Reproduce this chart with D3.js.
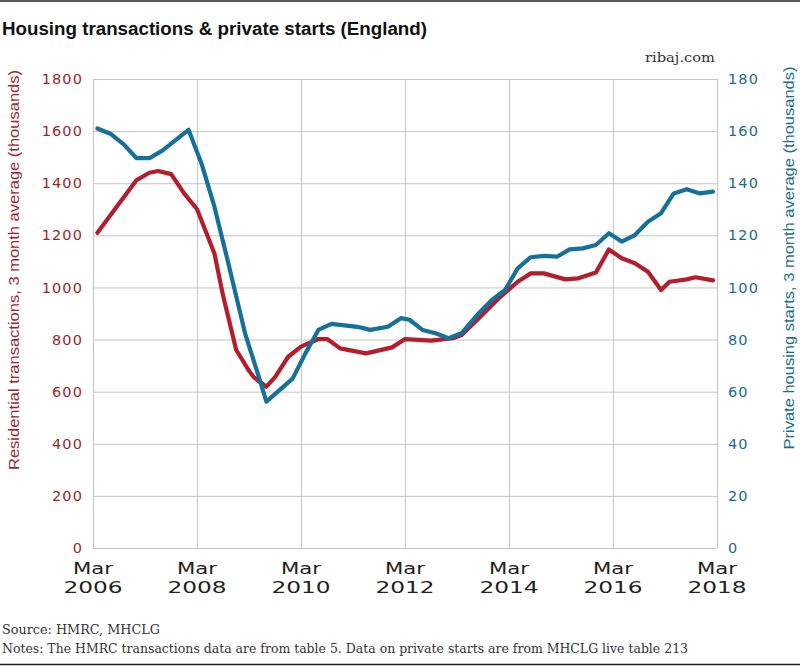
<!DOCTYPE html>
<html><head><meta charset="utf-8">
<script src="https://cdn.jsdelivr.net/npm/d3@7"></script>
<style>
body{margin:0;background:#fff;}
svg{display:block;}
</style></head>
<body>
<svg id="chart" width="800" height="666"></svg>
<script>
// ---- data ----
const transDates = ["2006-04","2007-01","2007-04","2007-06","2007-09","2007-12","2008-03","2008-07","2008-09","2008-12","2009-03","2009-04","2009-07","2009-09","2009-12","2010-03","2010-07","2010-09","2010-12","2011-06","2011-12","2012-03","2012-09","2013-02","2013-04","2013-08","2014-01","2014-05","2014-08","2014-11","2015-04","2015-07","2015-11","2016-02","2016-05","2016-08","2016-11","2017-02","2017-04","2017-08","2017-10","2018-02"];
const transValues = [1210,1412,1440,1447,1435,1361,1300,1130,965,760,680,657,619,657,734,773,802,802,766,747,770,802,796,805,817,882,965,1022,1054,1054,1031,1035,1057,1146,1112,1093,1060,990,1022,1031,1039,1027];

const startsDates = ["2006-04","2006-07","2006-10","2007-01","2007-04","2007-07","2008-01","2008-04","2008-07","2008-10","2009-02","2009-05","2009-07","2010-01","2010-04","2010-07","2010-10","2011-04","2011-07","2011-11","2012-02","2012-04","2012-07","2012-10","2013-01","2013-04","2013-08","2013-11","2014-02","2014-05","2014-08","2014-11","2015-02","2015-05","2015-08","2015-11","2016-02","2016-05","2016-08","2016-11","2017-02","2017-05","2017-08","2017-11","2018-02"];
const startsValues = [161,159,155,149.6,149.6,152.5,160.5,147.6,131,110.5,82.4,67,56.2,65,74.7,83.7,86,84.9,83.7,84.9,88.2,87.6,83.7,82.4,80.5,82.4,90.1,95.2,99,107.3,111.6,112.1,111.8,114.6,115,116.3,120.8,117.6,120.1,125.2,128.5,136.1,137.7,136.1,136.8];

const xTickDates = ["2006-03","2008-03","2010-03","2012-03","2014-03","2016-03","2018-03"];
const xTickMonth = ["Mar","Mar","Mar","Mar","Mar","Mar","Mar"];
const xTickYear = ["2006","2008","2010","2012","2014","2016","2018"];
const leftTicks = [0,200,400,600,800,1000,1200,1400,1600,1800];
const rightTicks = [0,20,40,60,80,100,120,140,160,180];

const titleText = "Housing transactions & private starts (England)";
const leftTitle = "Residential transactions, 3 month average (thousands)";
const rightTitle = "Private housing starts, 3 month average (thousands)";
const sourceText = "Source: HMRC, MHCLG";
const notesText = "Notes: The HMRC transactions data are from table 5. Data on private starts are from MHCLG live table 213";

// ---- setup ----
const parse = d3.timeParse("%Y-%m");
const svg = d3.select("#chart");
const W = 800, H = 666;
const L = 93, R = 717, T = 79, B = 548;
const RED = "#b31d2c", BLUE = "#16709a";
const RED_TXT = "#a01f2e", BLUE_TXT = "#1b6d8e";

const x = d3.scaleTime().domain([parse("2006-03"), parse("2018-03")]).range([L, R]);
const yL = d3.scaleLinear().domain([0, 1800]).range([B, T]);
const yR = d3.scaleLinear().domain([0, 180]).range([B, T]);

// frame lines
svg.append("line").attr("x1",0).attr("x2",W).attr("y1",1).attr("y2",1).attr("stroke","#222").attr("stroke-width",1.5);
svg.append("line").attr("x1",0).attr("x2",W).attr("y1",664.5).attr("y2",664.5).attr("stroke","#222").attr("stroke-width",1.5);

// title
svg.append("text").attr("x",2).attr("y",35).text(titleText)
  .attr("font-family","'Liberation Sans', Arial, sans-serif").attr("font-weight","bold")
  .attr("font-size",18).attr("fill","#111").attr("textLength",425).attr("lengthAdjust","spacingAndGlyphs");
svg.append("text").attr("x",715).attr("y",62).attr("text-anchor","end").text("ribaj.com")
  .attr("font-family","'DejaVu Serif', serif").attr("font-size",13).attr("fill","#333")
  .attr("textLength",70).attr("lengthAdjust","spacingAndGlyphs");

// grid
const g = svg.append("g");
g.append("g").attr("transform",`translate(${L},0)`)
  .call(d3.axisLeft(yL).tickValues(leftTicks).tickSize(-(R-L)).tickFormat(""))
  .call(s => { s.select(".domain").remove(); s.selectAll("line").attr("stroke","#c4c4c4").attr("stroke-width",1); });
g.append("g").attr("transform",`translate(0,${B})`)
  .call(d3.axisBottom(x).tickValues(xTickDates.map(parse)).tickSize(-(B-T)).tickFormat(""))
  .call(s => { s.select(".domain").remove(); s.selectAll("line").attr("stroke","#c4c4c4").attr("stroke-width",1); });

// left tick labels
const tickFont = "'DejaVu Sans', Verdana, sans-serif";
g.append("g").attr("transform",`translate(${L},0)`)
  .call(d3.axisLeft(yL).tickValues(leftTicks).tickSize(0).tickPadding(10).tickFormat(d3.format("d")))
  .call(s => { s.select(".domain").remove();
    s.selectAll("text").attr("font-family",tickFont).attr("font-size",14.5).attr("letter-spacing","1.1px").attr("fill",RED_TXT); });
// right tick labels
g.append("g").attr("transform",`translate(${R},0)`)
  .call(d3.axisRight(yR).tickValues(rightTicks).tickSize(0).tickPadding(11).tickFormat(d3.format("d")))
  .call(s => { s.select(".domain").remove();
    s.selectAll("text").attr("font-family",tickFont).attr("font-size",14.5).attr("letter-spacing","1.1px").attr("fill",BLUE_TXT); });

// x labels
const xl = g.append("g");
xl.selectAll("text.m").data(xTickDates).join("text").attr("class","m")
  .attr("x", d => x(parse(d))).attr("y",574).attr("text-anchor","middle")
  .attr("font-family",tickFont).attr("font-size",16).attr("fill","#222")
  .attr("textLength",40).attr("lengthAdjust","spacingAndGlyphs")
  .text((d,i) => xTickMonth[i]);
xl.selectAll("text.yr").data(xTickDates).join("text").attr("class","yr")
  .attr("x", d => x(parse(d))).attr("y",593).attr("text-anchor","middle")
  .attr("font-family",tickFont).attr("font-size",16).attr("fill","#222")
  .attr("textLength",59).attr("lengthAdjust","spacingAndGlyphs")
  .text((d,i) => xTickYear[i]);

// axis titles
svg.append("text").attr("transform","translate(19,270) rotate(-90)").attr("text-anchor","middle")
  .attr("font-family","'Liberation Sans', Arial, sans-serif").attr("font-size",15).attr("fill",RED_TXT)
  .attr("textLength",400).attr("lengthAdjust","spacingAndGlyphs").text(leftTitle);
svg.append("text").attr("transform","translate(794,258) rotate(-90)").attr("text-anchor","middle")
  .attr("font-family","'Liberation Sans', Arial, sans-serif").attr("font-size",15).attr("fill",BLUE_TXT)
  .attr("textLength",383).attr("lengthAdjust","spacingAndGlyphs").text(rightTitle);

// lines
const trans = transDates.map((d,i) => ({d: parse(d), v: transValues[i]}));
const starts = startsDates.map((d,i) => ({d: parse(d), v: startsValues[i]}));
svg.append("path").datum(trans).attr("fill","none").attr("stroke",RED).attr("stroke-width",4.2)
  .attr("stroke-linejoin","round").attr("stroke-linecap","round")
  .attr("d", d3.line().x(p => x(p.d)).y(p => yL(p.v)));
svg.append("path").datum(starts).attr("fill","none").attr("stroke",BLUE).attr("stroke-width",4.2)
  .attr("stroke-linejoin","round").attr("stroke-linecap","round")
  .attr("d", d3.line().x(p => x(p.d)).y(p => yR(p.v)));

// footer
svg.append("text").attr("x",2).attr("y",634).text(sourceText)
  .attr("font-family","'DejaVu Serif', serif").attr("font-size",12).attr("fill","#333")
  .attr("textLength",158).attr("lengthAdjust","spacingAndGlyphs");
svg.append("text").attr("x",2).attr("y",653).text(notesText)
  .attr("font-family","'DejaVu Serif', serif").attr("font-size",12).attr("fill","#333")
  .attr("textLength",686).attr("lengthAdjust","spacingAndGlyphs");
</script>
</body></html>
